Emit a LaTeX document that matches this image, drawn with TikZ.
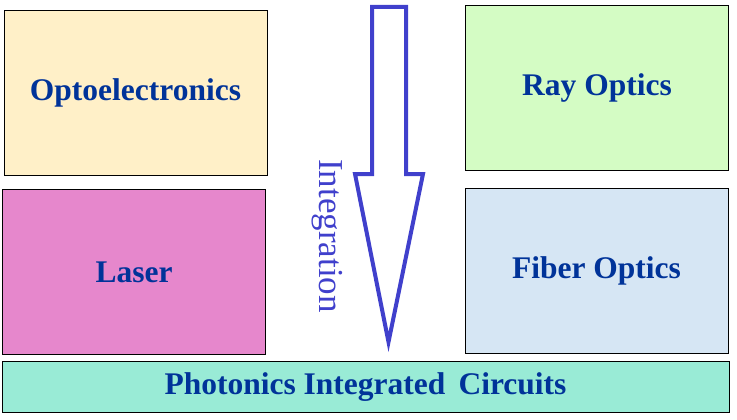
\documentclass[tikz,border=0pt]{standalone}
\usepackage{fontspec}
\setmainfont{Liberation Serif}
\usepackage{xcolor}
\usetikzlibrary{positioning}

\definecolor{labelblue}{HTML}{003399}
\definecolor{arrowblue}{HTML}{4040CC}
\definecolor{optofill}{HTML}{FFF0C8}
\definecolor{laserfill}{HTML}{E687CC}
\definecolor{rayfill}{HTML}{D4FCC4}
\definecolor{fiberfill}{HTML}{D6E6F4}
\definecolor{picfill}{HTML}{99EBD6}

\begin{document}
\begin{tikzpicture}[
  x=1pt,y=-1pt,
  box/.style={draw,line width=0.8pt,fill=#1,inner sep=0pt,
              minimum width=263pt,minimum height=165pt,
              font=\fontsize{31.5}{32}\selectfont\bfseries,text=labelblue},
  bigarrow/.style={draw=arrowblue,line width=4pt,line join=miter,fill=white}
]
\useasboundingbox (0,0) rectangle (737,420);

% topics
\node[box=optofill]  (opto)  at (135.5,92.5) {Optoelectronics};
\node[box=laserfill] (laser) at (134,272)    {Laser};
\node[box=rayfill]   (ray)   at (597,87.5)   {Ray Optics};
\node[box=fiberfill] (fiber) at (596.5,270.5){Fiber Optics};

% target
\node[box=picfill,minimum width=727pt,minimum height=51pt]
     (pic) at (365.5,387) {Photonics Integrated\, Circuits};

% integration arrow
\draw[bigarrow] (372,7) -- (406,7) -- (406,174) -- (423,174)
   -- (388.5,342) -- (355,174) -- (372,174) -- cycle;
\node[rotate=-90,font=\fontsize{35}{35}\selectfont,text=arrowblue]
     (integ) at (327,236) {Integration};
\end{tikzpicture}
\end{document}
